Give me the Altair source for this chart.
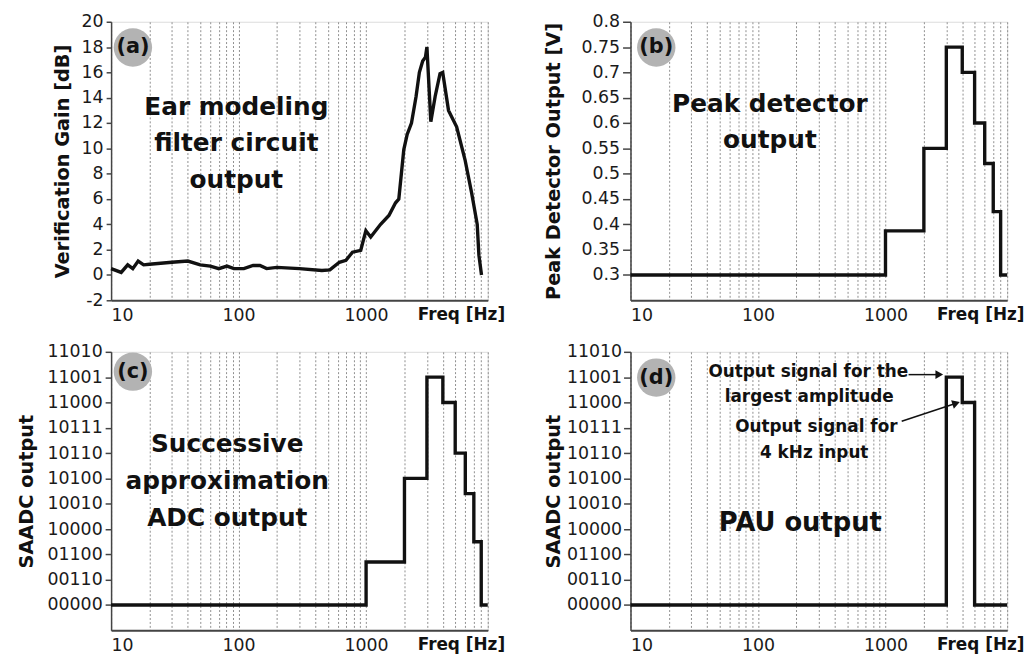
import altair as alt
import pandas as pd

FONT = "DejaVu Sans"

# ---- shared x axis (log frequency) ----
GRID_FREQS = [10, 20, 30, 40, 50, 60, 70, 80, 90, 100, 200, 300, 400, 500, 600, 700, 800, 900,
              1000, 2000, 3000, 4000, 5000, 6000, 7000, 8000, 9000]
X_DOMAIN = [10, 9000]

# ---- (a) ear modeling filter output ----
a_freq = [10, 12, 13.5, 14.8, 16.3, 18, 20, 30, 40, 50, 60, 70, 81, 92, 110, 130, 147, 166, 200,
          300, 450, 520, 617, 695, 782, 908, 996, 1087, 1300, 1510, 1703, 1806, 1976, 2100, 2270,
          2466, 2618, 2780, 2920, 3000, 3220, 3480, 3800, 3990, 4430, 5130, 5970, 6720, 7440, 7670, 8040]
a_gain = [0.5, 0.2, 0.8, 0.5, 1.1, 0.8, 0.85, 1.0, 1.1, 0.8, 0.7, 0.5, 0.7, 0.5, 0.5, 0.75, 0.75, 0.5, 0.6,
          0.5, 0.35, 0.4, 1.0, 1.15, 1.8, 1.95, 3.5, 3.0, 4.0, 4.7, 5.7, 6.0, 9.9, 11.1, 12.0,
          14.1, 16.0, 16.9, 17.2, 18.0, 12.1, 14.1, 15.9, 16.0, 13.0, 11.7, 9.1, 6.5, 4.0, 1.56, 0.0]
a_ticks = [-2, 0, 2, 4, 6, 8, 10, 12, 14, 16, 18, 20]
a_text = ["Ear modeling", "filter circuit", "output"]
a_text_f = [96, 96, 96]
a_text_v = [13.3, 10.4, 7.5]

# ---- (b) peak detector output ----
b_freq = [10, 1000, 2000, 3000, 4000, 5000, 6000, 7000, 8000, 9000]
b_volt = [0.3, 0.387, 0.55, 0.75, 0.70, 0.60, 0.52, 0.425, 0.3, 0.3]
b_ticks = [0.3, 0.35, 0.4, 0.45, 0.5, 0.55, 0.6, 0.65, 0.7, 0.75, 0.8]
b_text = ["Peak detector", "output"]
b_text_f = [124, 124]
b_text_v = [0.638, 0.566]

# ---- (c), (d) SAADC codes ----
code_labels = ["00000", "00110", "01100", "10000", "10010", "10100",
               "10110", "10111", "11000", "11001", "11010"]
c_freq = [10, 1000, 2000, 3000, 4000, 5000, 6000, 7000, 8000, 9000]
c_level = [0, 1.7, 5, 9, 8, 6, 4.4, 2.5, 0, 0]
c_text = ["Successive", "approximation", "ADC output"]
c_text_f = [81.5, 81.5, 81.5]
c_text_v = [6.35, 4.9, 3.45]

d_freq = [10, 3000, 4000, 5000, 9000]
d_level = [0, 9, 8, 0, 0]
d_text = ["PAU output"]
d_text_f = [215]
d_text_v = [3.25]
d_note = ["Output signal for the", "largest amplitude", "Output signal for", "4 kHz input"]
d_note_f = [248, 252, 287, 276]
d_note_v = [9.19, 8.21, 7.03, 6.01]
# arrows: start (f, v) -> head (f2, v2)
arrow_f = [1517, 1340]
arrow_v = [9.1, 7.26]
arrow_f2 = [2642, 3581]
arrow_v2 = [9.1, 7.97]
arrow_ang = [0, 342]

code_idx = list(range(len(code_labels)))
code_expr = "[" + ",".join("'%s'" % s for s in code_labels) + "][datum.value]"
X_LABEL_EXPR = "(datum.value == 10 || datum.value == 100 || datum.value == 1000) ? datum.value + '' : ''"

W, H = 380, 281


def x_enc(field="f"):
    return alt.X(
        f"{field}:Q",
        scale=alt.Scale(type="log", domain=X_DOMAIN),
        axis=alt.Axis(
            values=GRID_FREQS, grid=True, gridDash=[2, 2], gridColor="#8f8f8f", gridWidth=1,
            ticks=False, labelExpr=X_LABEL_EXPR, labelOverlap=False, labelFlush=True,
            labelFont=FONT, labelFontSize=17.5, labelColor="#1a1a1a", labelPadding=6,
            domainColor="#444", domainWidth=2,
            title="Freq [Hz]", titleFont=FONT, titleFontSize=17, titleFontWeight="bold",
            titleColor="#111", titleX=397, titleY=19, titleAlign="right", titleBaseline="alphabetic",
        ),
    )


def y_enc(domain, values, expr, title, tick, pad, tpad, field="v"):
    return alt.Y(
        f"{field}:Q",
        scale=alt.Scale(domain=domain, nice=False, zero=False),
        axis=alt.Axis(
            values=values, grid=False, labelExpr=expr, labelOverlap=False,
            labelFont=FONT, labelFontSize=17.5, labelColor="#1a1a1a", labelPadding=pad,
            tickSize=tick, tickColor="#444", tickWidth=1.5, domainColor="#444", domainWidth=1.5,
            title=title, titleFont=FONT, titleFontSize=19.5, titleFontWeight="bold",
            titleColor="#111", titlePadding=tpad,
        ),
    )


def panel(freq, vals, interp, ycfg, texts, tag, cpos, big=25):
    yd = dict(ycfg)
    line = alt.Chart(pd.DataFrame({"f": freq, "v": vals})).mark_line(
        color="#111", strokeWidth=3.4, interpolate=interp
    ).encode(x=x_enc(), y=y_enc(**yd))
    tf, tv, tt = texts
    txt = alt.Chart(pd.DataFrame({"f": tf, "v": tv, "t": tt})).mark_text(
        font=FONT, fontSize=big, fontWeight="bold", color="#111"
    ).encode(x=x_enc(), y=y_enc(**yd), text="t:N")
    tagdf = pd.DataFrame({"t": [tag]})
    circ = alt.Chart(tagdf).mark_point(
        shape="circle", filled=True, size=1500, color="#b3b3b3", opacity=1
    ).encode(x=alt.value(cpos[0]), y=alt.value(cpos[1]))
    lab = alt.Chart(tagdf).mark_text(
        font=FONT, fontSize=21, fontWeight="bold", color="#111"
    ).encode(x=alt.value(cpos[0]), y=alt.value(cpos[1]), text="t:N")
    return [line, txt, circ, lab], yd


ya = dict(domain=[-2, 20], values=a_ticks, expr="toString(datum.value)",
          title="Verification Gain [dB]", tick=5, pad=3, tpad=9)
yb = dict(domain=[0.25, 0.8], values=b_ticks, expr="toString(datum.value)",
          title="Peak Detector Output [V]", tick=8, pad=3, tpad=18)
yc = dict(domain=[-1, 10], values=code_idx, expr=code_expr,
          title="SAADC output", tick=6, pad=3, tpad=11)
yd_ = dict(domain=[-1, 10], values=code_idx, expr=code_expr,
           title="SAADC output", tick=7, pad=2, tpad=3)

la, _ = panel(a_freq, a_gain, "linear", ya, (a_text_f, a_text_v, a_text), "(a)", (22, 26))
lb, _ = panel(b_freq, b_volt, "step-after", yb, (b_text_f, b_text_v, b_text), "(b)", (26, 26))
lc, _ = panel(c_freq, c_level, "step-after", yc, (c_text_f, c_text_v, c_text), "(c)", (22, 20))
ld, _ = panel(d_freq, d_level, "step-after", yd_, (d_text_f, d_text_v, d_text), "(d)", (26, 26), big=26)

note = alt.Chart(pd.DataFrame({"f": d_note_f, "v": d_note_v, "t": d_note})).mark_text(
    font=FONT, fontSize=17, fontWeight="bold", color="#111"
).encode(x=x_enc(), y=y_enc(**yd_), text="t:N")
arrows_df = pd.DataFrame({"f": arrow_f, "v": arrow_v, "f2": arrow_f2, "v2": arrow_v2, "ang": arrow_ang})
arrow_lines = alt.Chart(arrows_df).mark_rule(color="#111", strokeWidth=1.5).encode(
    x=x_enc(), y=y_enc(**yd_), x2="f2:Q", y2="v2:Q"
)
heads = alt.Chart(arrows_df).mark_point(shape="triangle-right", filled=True, size=80, color="#111", opacity=1).encode(
    x=x_enc("f2"), y=y_enc(field="v2", **yd_), angle=alt.Angle("ang:Q", scale=None)
)
ld = ld + [note, arrow_lines, heads]

pa = alt.layer(*la).properties(width=W, height=H)
pb = alt.layer(*lb).properties(width=W, height=H)
pc = alt.layer(*lc).properties(width=W, height=H)
pd_ = alt.layer(*ld).properties(width=W, height=H)

chart = alt.concat(
    pa, pb, pc, pd_, columns=2, spacing={"row": 52, "column": 144}, bounds="flush"
).properties(
    padding={"left": 7, "top": 1, "right": 0, "bottom": 0}
).configure_view(strokeWidth=0).configure(background="white")

chart.save("out.html", embed_options={"renderer": "svg", "actions": False})
